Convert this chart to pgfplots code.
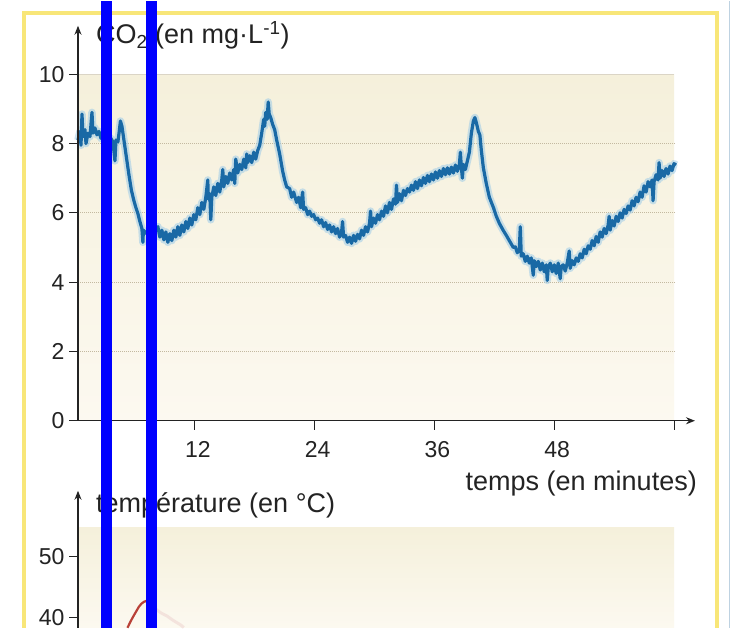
\documentclass[border=0pt]{standalone}
\usepackage{pgfplots}
\pgfplotsset{compat=1.18}
\usepackage{fontspec}
\setmainfont{Liberation Sans}
\usetikzlibrary{arrows.meta}
\definecolor{frameyel}{RGB}{248,230,120}
\definecolor{framebl}{RGB}{190,210,225}
\definecolor{bgtop}{RGB}{245,240,219}
\definecolor{bgbot}{RGB}{252,249,240}
\definecolor{gridc}{RGB}{195,185,160}
\definecolor{curve}{RGB}{25,105,165}
\definecolor{halo}{RGB}{150,200,232}
\definecolor{tred}{RGB}{185,65,55}
\definecolor{axc}{RGB}{35,35,35}
\pgfplotstableread{
t v
0.3 8.1
0.5 8.35
0.6 7.95
0.7 8.85
0.8 8.2
1.0 8.4
1.1 8.0
1.3 8.3
1.5 8.2
1.7 8.9
1.8 8.3
2.0 8.45
2.2 8.25
2.4 8.35
2.6 8.15
2.8 8.3
3.0 8.05
3.2 8.2
3.4 8.0
3.6 8.15
3.8 8.05
4.0 7.5
4.1 8.1
4.3 8.05
4.45 8.4
4.55 8.65
4.7 8.5
4.85 8.2
5.0 7.9
5.2 7.5
5.4 7.1
5.65 6.65
5.9 6.35
6.1 6.15
6.3 5.98
6.5 5.75
6.7 5.55
6.8 5.15
6.85 5.5
7.0 5.45
7.2 5.4
7.5 5.45
7.8 5.35
8.0 5.5
8.3 5.6
8.5 5.3
8.7 5.5
8.9 5.22
9.1 5.45
9.3 5.15
9.5 5.4
9.7 5.2
9.9 5.5
10.1 5.3
10.3 5.6
10.5 5.35
10.7 5.65
10.9 5.45
11.1 5.75
11.3 5.55
11.5 5.85
11.7 5.65
11.9 5.95
12.1 5.8
12.3 6.15
12.5 5.95
12.7 6.3
12.9 6.1
13.1 6.45
13.3 6.95
13.35 6.4
13.5 6.55
13.6 5.8
13.7 6.45
13.9 6.75
14.1 6.5
14.3 6.85
14.5 6.6
14.7 6.95
14.8 7.25
14.9 6.75
15.1 7.05
15.3 6.85
15.5 7.15
15.7 6.95
15.9 7.25
16.0 6.85
16.1 7.55
16.3 7.15
16.5 7.4
16.7 7.25
16.9 7.55
17.1 7.3
17.2 7.7
17.3 7.45
17.5 7.65
17.7 7.45
17.9 7.75
18.1 7.55
18.3 7.8
18.5 7.95
18.7 8.3
18.9 8.7
19.0 8.5
19.1 8.9
19.25 8.7
19.35 9.2
19.45 8.85
19.6 8.75
19.8 8.55
20.0 8.4
20.2 8.1
20.5 7.7
20.8 7.2
21.0 6.95
21.2 6.75
21.5 6.7
21.7 6.45
21.9 6.6
22.2 6.3
22.4 6.45
22.6 6.15
22.8 6.6
22.9 6.1
23.1 6.15
23.3 5.95
23.5 6.05
23.7 5.9
23.9 5.95
24.1 5.8
24.3 5.85
24.5 5.7
24.7 5.8
24.9 5.6
25.1 5.72
25.3 5.52
25.5 5.65
25.7 5.45
25.9 5.6
26.1 5.4
26.3 5.55
26.5 5.3
26.7 5.45
26.8 5.75
26.9 5.3
27.1 5.35
27.3 5.15
27.5 5.3
27.7 5.12
27.9 5.35
28.1 5.18
28.3 5.38
28.5 5.25
28.7 5.5
28.9 5.35
29.1 5.6
29.3 5.45
29.5 5.7
29.6 6.05
29.7 5.6
29.9 5.85
30.1 5.7
30.3 5.95
30.5 5.8
30.7 6.05
30.9 5.9
31.1 6.2
31.3 6.0
31.5 6.3
31.7 6.1
31.9 6.4
32.1 6.25
32.2 6.8
32.3 6.3
32.5 6.55
32.7 6.35
32.9 6.65
33.1 6.5
33.3 6.7
33.5 6.6
33.7 6.8
33.9 6.65
34.1 6.9
34.3 6.7
34.5 6.95
34.7 6.78
34.9 7.02
35.1 6.85
35.3 7.08
35.5 6.9
35.7 7.12
35.9 6.95
36.1 7.18
36.3 7.0
36.5 7.22
36.7 7.05
36.9 7.28
37.1 7.1
37.3 7.3
37.5 7.12
37.7 7.32
37.9 7.15
38.1 7.38
38.3 7.2
38.5 7.4
38.6 7.75
38.7 7.3
38.8 7.0
38.9 7.4
39.1 7.25
39.3 7.5
39.5 7.75
39.7 8.3
39.9 8.65
40.05 8.75
40.2 8.6
40.4 8.35
40.55 8.25
40.7 7.8
40.9 7.3
41.2 6.84
41.5 6.45
41.9 6.16
42.2 5.9
42.5 5.7
42.9 5.49
43.2 5.35
43.5 5.2
43.7 5.1
43.9 5.0
44.1 5.02
44.3 4.85
44.5 4.92
44.6 5.6
44.7 4.75
44.9 4.82
45.1 4.6
45.3 4.75
45.5 4.55
45.7 4.7
45.9 4.2
46.0 4.62
46.2 4.45
46.4 4.6
46.6 4.35
46.8 4.55
47.0 4.3
47.2 4.5
47.3 4.05
47.4 4.42
47.6 4.55
47.8 4.3
48.0 4.5
48.2 4.25
48.4 4.55
48.6 4.1
48.7 4.45
48.9 4.5
49.1 4.32
49.3 4.55
49.5 4.9
49.6 4.4
49.8 4.62
50.0 4.5
50.2 4.7
50.4 4.6
50.6 4.82
50.8 4.7
51.0 4.95
51.2 4.82
51.4 5.05
51.6 4.95
51.8 5.2
52.0 5.05
52.2 5.32
52.4 5.15
52.6 5.45
52.8 5.3
53.0 5.55
53.2 5.4
53.4 5.65
53.5 5.9
53.6 5.5
53.8 5.78
54.0 5.62
54.2 5.9
54.4 5.75
54.6 6.0
54.8 5.85
55.0 6.1
55.2 5.98
55.4 6.2
55.6 6.08
55.8 6.35
56.0 6.2
56.2 6.45
56.4 6.32
56.6 6.6
56.8 6.45
57.0 6.78
57.2 6.6
57.4 6.9
57.6 6.75
57.8 6.95
57.9 6.35
58.0 6.9
58.2 7.1
58.4 6.95
58.5 7.45
58.6 7.0
58.8 7.22
59.0 7.05
59.2 7.28
59.4 7.12
59.6 7.35
59.8 7.22
60.0 7.42
60.2 7.38
}\coco
\pgfplotstableread{
t v
5.25 38.36
5.3 38.5
5.6 39.5
5.9 40.4
6.15 41.1
6.4 41.8
6.65 42.3
6.9 42.6
7.2 42.8
7.5 42.6
7.8 42.1
8.1 41.4
}\temp
\pgfplotstableread{
t v
8.1 41.4
8.6 40.8
9.2 40.3
9.8 39.6
10.6 38.8
10.9 38.4
}\tempfaint
\begin{document}
\begin{tikzpicture}[x=1pt,y=1pt]
\fill[white] (0,0) rectangle (735,627);
\draw[frameyel, line width=4] (23.5,0) -- (23.5,614.5) -- (717,614.5) -- (717,0);
\draw[framebl, line width=1.5] (729.5,0) -- (729.5,627);
\begin{axis}[
  at={(78pt,207pt)}, anchor=south west,
  scale only axis, width=617pt, height=395pt,
  xmin=0.3, xmax=62.1, ymin=0, ymax=11.4,
  axis lines=left, axis on top,
  axis line style={axc, line width=1.3pt, -{Stealth[length=9pt,width=7pt]}},
  xtick={12,24,36,48,60}, xticklabels={12,24,36,48,{}},
  ytick={0,2,4,6,8,10},
  tick style={axc, line width=0.9pt},
  tick align=outside, major tick length=9pt,
  ticklabel style={font=\fontsize{23}{26}\selectfont, text=axc},
  /pgf/number format/assume math mode=true,
  xticklabel style={yshift=-8pt, xshift=3pt},
  yticklabel style={xshift=-1pt},
  clip=false,
]
\addplot[draw=none, top color=bgtop, bottom color=bgbot] coordinates {(0.3,0) (60,0) (60,10) (0.3,10)} -- cycle;
\addplot[gridc, densely dotted, line width=1pt] coordinates {(0.3,2) (60,2)};
\addplot[gridc, densely dotted, line width=1pt] coordinates {(0.3,4) (60,4)};
\addplot[gridc, densely dotted, line width=1pt] coordinates {(0.3,6) (60,6)};
\addplot[gridc, densely dotted, line width=1pt] coordinates {(0.3,8) (60,8)};
\addplot[gridc!60, line width=0.8pt] coordinates {(0.3,10) (60,10)};
\addplot[halo, line width=7.5pt, opacity=0.5, line join=round] table[x=t,y=v] {\coco};
\addplot[curve, line width=3.2pt, line join=round] table[x=t,y=v] {\coco};
\end{axis}
\begin{axis}[
  at={(78pt,0pt)}, anchor=south west,
  scale only axis, width=617pt, height=137pt,
  xmin=0.3, xmax=62.1, ymin=38.36, ymax=60.8,
  axis x line=none, axis y line=left, axis on top,
  axis line style={axc, line width=1.3pt, -{Stealth[length=9pt,width=7pt]}},
  xtick=\empty,
  ytick={40,50},
  tick style={axc, line width=0.9pt},
  tick align=outside, major tick length=9pt,
  ticklabel style={font=\fontsize{23}{26}\selectfont, text=axc},
  /pgf/number format/assume math mode=true,
  yticklabel style={xshift=-1pt},
  clip=false,
]
\addplot[draw=none, top color=bgtop, bottom color=bgbot] coordinates {(0.3,38.36) (60,38.36) (60,54.8) (0.3,54.8)} -- cycle;
\addplot[tred!25, line width=3pt, opacity=0.5] table[x=t,y=v] {\tempfaint};
\addplot[tred, line width=2.2pt] table[x=t,y=v] {\temp};
\end{axis}
\node[anchor=base west, inner sep=0pt, text=axc, font=\fontsize{27}{30}\selectfont] at (96,584) {CO\textsubscript{2} (en mg·L\textsuperscript{-1})};
\node[anchor=base east, inner sep=0pt, text=axc, font=\fontsize{27}{30}\selectfont] at (697,137) {temps (en minutes)};
\node[anchor=base west, inner sep=0pt, text=axc, font=\fontsize{27}{30}\selectfont] at (96,115) {température (en °C)};
\fill[blue] (100.5,0) rectangle (111.5,627);
\fill[blue] (146,0) rectangle (157,627);
\end{tikzpicture}
\end{document}
